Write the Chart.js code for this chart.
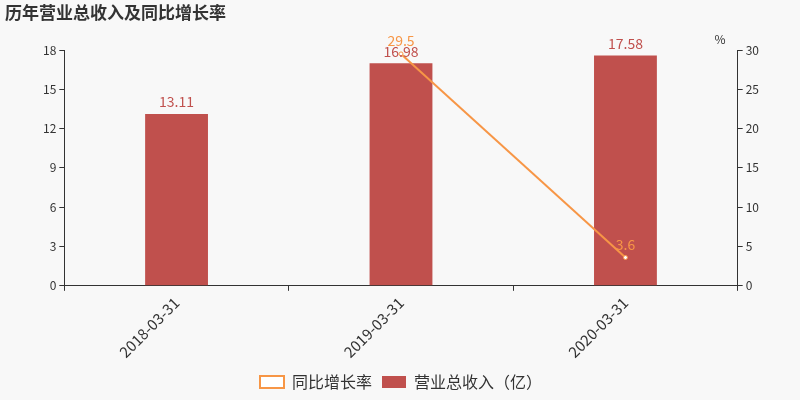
<!DOCTYPE html>
<html><head><meta charset="utf-8">
<script src="https://cdn.jsdelivr.net/npm/chart.js@4"></script>
<style>html,body{margin:0;background:#f8f8f8}#w{width:800px;height:400px}</style>
</head><body><div id="w"><canvas id="c"></canvas></div>
<script>
const categories=['2018-03-31','2019-03-31','2020-03-31'];
const revenue=[13.11,16.98,17.58];
const growth=[null,29.5,3.6];
const barColor='#c0504d', lineColor='#f79646';
const F='"Noto Sans CJK SC","DejaVu Sans",sans-serif';
const extra={id:'extra',afterDraw(ch){const c=ch.ctx;c.save();
c.font='bold 17px '+F;c.fillStyle='#333';c.textBaseline='middle';c.textAlign='left';c.fillText('历年营业总收入及同比增长率',5,13);
c.font='12px '+F;c.fillStyle='#333';c.textAlign='center';c.fillText('%',720,39);
c.font='14px '+F;c.textBaseline='bottom';
ch.getDatasetMeta(0).data.forEach((b,i)=>{c.fillStyle=barColor;c.fillText(revenue[i].toFixed(2),b.x,b.y-5);});
ch.getDatasetMeta(1).data.forEach((p,i)=>{if(growth[i]==null)return;c.fillStyle=lineColor;c.fillText(String(growth[i]),p.x,p.y-6);});
c.restore();}};
new Chart(document.getElementById('c'),{
data:{labels:categories,datasets:[
{type:'bar',label:'营业总收入（亿）',data:revenue,backgroundColor:barColor,yAxisID:'y',barPercentage:0.28,categoryPercentage:1,order:2},
{type:'line',label:'同比增长率',data:growth,borderColor:lineColor,backgroundColor:'#fff',borderWidth:2,pointRadius:2,pointBorderWidth:1,pointBorderColor:lineColor,yAxisID:'y1',order:1}]},
options:{responsive:true,maintainAspectRatio:false,animation:false,
layout:{padding:{top:50,left:40,right:38,bottom:0}},
plugins:{legend:{position:'bottom',labels:{font:{size:16,family:F},color:'#333',boxWidth:24,boxHeight:12,padding:10}},tooltip:{enabled:false}},
scales:{
x:{grid:{display:true,drawOnChartArea:false,offset:true,color:'#333',tickLength:5},border:{color:'#333'},ticks:{color:'#333',font:{size:15,family:F},maxRotation:45,minRotation:45}},
y:{position:'left',min:0,max:18,ticks:{stepSize:3,color:'#333',font:{size:12,family:F}},grid:{drawOnChartArea:false,color:'#333',tickLength:5},border:{color:'#333'}},
y1:{position:'right',min:0,max:30,ticks:{stepSize:5,color:'#333',font:{size:12,family:F}},grid:{drawOnChartArea:false,color:'#333',tickLength:5},border:{color:'#333'}}
}},
plugins:[extra]});
</script></body></html>
